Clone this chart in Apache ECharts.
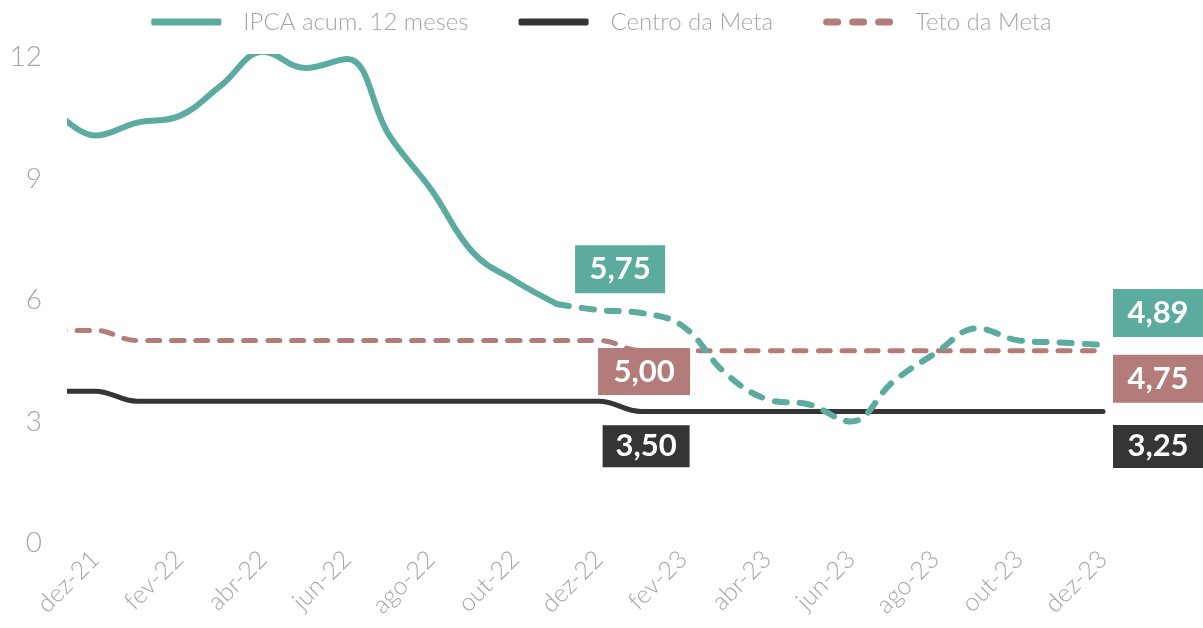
<!DOCTYPE html>
<html>
<head>
<meta charset="utf-8">
<script src="https://cdn.jsdelivr.net/npm/echarts@6/dist/echarts.min.js"></script>
<style>
html, body { margin: 0; background: #fff; }
#container { width: 1203px; height: 628px; }
</style>
</head>
<body>
<div id="container"></div>
<script>
// meses, começando em nov-21 (índice -1 no eixo)
var meses = ['nov-21', 'dez-21', 'jan-22', 'fev-22', 'mar-22', 'abr-22', 'mai-22', 'jun-22', 'jul-22',
    'ago-22', 'set-22', 'out-22', 'nov-22', 'dez-22', 'jan-23', 'fev-23', 'mar-23', 'abr-23',
    'mai-23', 'jun-23', 'jul-23', 'ago-23', 'set-23', 'out-23', 'nov-23', 'dez-23']

// realizado nov-21 .. nov-22
var ipcaRealizado = [10.74, 10.06, 10.38, 10.54, 11.30, 12.13, 11.73, 11.95, 10.07, 8.73, 7.17, 6.47, 5.90]
// projeção nov-22 .. dez-23
var ipcaProjecao = [5.90, 5.75, 5.68, 5.35, 4.20, 3.55, 3.42, 3.00, 3.98, 4.68, 5.30, 5.00, 4.95, 4.89]
// nov-21 .. dez-23
var centroMeta = [3.75, 3.75, 3.50, 3.50, 3.50, 3.50, 3.50, 3.50, 3.50, 3.50, 3.50, 3.50, 3.50, 3.50,
    3.25, 3.25, 3.25, 3.25, 3.25, 3.25, 3.25, 3.25, 3.25, 3.25, 3.25, 3.25]
var tetoMeta = [5.25, 5.25, 5.00, 5.00, 5.00, 5.00, 5.00, 5.00, 5.00, 5.00, 5.00, 5.00, 5.00, 5.00,
    4.75, 4.75, 4.75, 4.75, 4.75, 4.75, 4.75, 4.75, 4.75, 4.75, 4.75, 4.75]
var ticksX = [0, 2, 4, 6, 8, 10, 12, 14, 16, 18, 20, 22, 24]

var verde = '#5bab9f'
var preto = '#353535'
var rosa = '#b37b7a'
var cinza = '#a6a6a6'
var fonte = 'Lato, "Open Sans", sans-serif'

// índice do mês no eixo x (dez-21 = 0)
var pares = function (valores, inicio) {
    var res = []
    for (var i = 0; i < valores.length; i++) {
        res.push([inicio + i - 1, valores[i]])
    }
    return res
}

var fmt = function (v) {
    return v.toFixed(2).replace('.', ',')
}

var caixa = function (x, y, cor, offset, size) {
    return {
        coord: [x, y],
        value: y,
        symbol: 'rect',
        symbolSize: size,
        symbolOffset: offset,
        itemStyle: { color: cor },
        label: {
            show: true,
            position: 'inside',
            color: '#fff',
            fontFamily: fonte,
            fontWeight: 'bold',
            fontSize: 31,
            formatter: function (p) { return fmt(p.value) },
        },
    }
}

var iDez22 = meses.indexOf('dez-22') - 1
var iDez23 = meses.indexOf('dez-23') - 1

// ícone tracejado da legenda (três traços arredondados)
var tracejado = 'path://M3.5,0h11a3.5,3.5 0 0 1 0,7h-11a3.5,3.5 0 0 1 0,-7z' +
    'M29.5,0h11a3.5,3.5 0 0 1 0,7h-11a3.5,3.5 0 0 1 0,-7z' +
    'M55.5,0h11a3.5,3.5 0 0 1 0,7h-11a3.5,3.5 0 0 1 0,-7z'

var chart = echarts.init(document.getElementById('container'))

var option = {
    animation: false,
    grid: { left: 70, right: 100, top: 57, bottom: 85 },
    legend: {
        top: 5,
        left: 'center',
        itemWidth: 70,
        itemHeight: 7,
        itemGap: 50,
        textStyle: {
            color: cinza,
            fontFamily: fonte,
            fontWeight: 300,
            fontSize: 24,
            padding: [0, 0, 0, 17],
        },
        data: [
            { name: 'IPCA acum. 12 meses', icon: 'roundRect', itemStyle: { color: verde } },
            { name: 'Centro da Meta', icon: 'roundRect', itemStyle: { color: preto } },
            { name: 'Teto da Meta', icon: tracejado, itemStyle: { color: rosa } },
        ],
    },
    xAxis: {
        type: 'value',
        min: -0.6,
        max: 24,
        axisLine: { show: false },
        axisTick: { show: false },
        splitLine: { show: false },
        axisLabel: {
            customValues: ticksX,
            rotate: 45,
            margin: 12,
            color: cinza,
            fontFamily: fonte,
            fontWeight: 300,
            fontSize: 25,
            formatter: function (v) { return meses[v + 1] },
        },
    },
    yAxis: {
        type: 'value',
        min: 0,
        max: 12,
        interval: 3,
        axisLine: { show: false },
        axisTick: { show: false },
        splitLine: { show: false },
        axisLabel: {
            margin: 28,
            color: cinza,
            fontFamily: fonte,
            fontWeight: 300,
            fontSize: 28,
        },
    },
    series: [
        {
            name: 'IPCA acum. 12 meses',
            type: 'line',
            smooth: 0.4,
            symbol: 'none',
            color: verde,
            lineStyle: { width: 6, color: verde, cap: 'round' },
            data: pares(ipcaRealizado, 0),
            z: 5,
        },
        {
            name: 'IPCA acum. 12 meses',
            type: 'line',
            smooth: 0.4,
            symbol: 'none',
            color: verde,
            lineStyle: { width: 6, color: verde, type: [12, 13], cap: 'round' },
            data: pares(ipcaProjecao, meses.indexOf('nov-22')),
            z: 5,
            markPoint: {
                data: [
                    caixa(iDez22, ipcaProjecao[1], verde, [21, -41], [90, 48]),
                    caixa(iDez23, ipcaProjecao[ipcaProjecao.length - 1], verde, [55, -32], [90, 48]),
                ],
            },
        },
        {
            name: 'Centro da Meta',
            type: 'line',
            smooth: 0.4,
            symbol: 'none',
            color: preto,
            lineStyle: { width: 5, color: preto, cap: 'round' },
            data: pares(centroMeta, 0),
            markPoint: {
                data: [
                    caixa(iDez22, centroMeta[iDez22 + 1], preto, [47, 45], [87, 42]),
                    caixa(iDez23, centroMeta[iDez23 + 1], preto, [55, 35], [90, 43]),
                ],
            },
        },
        {
            name: 'Teto da Meta',
            type: 'line',
            smooth: 0.4,
            symbol: 'none',
            color: rosa,
            lineStyle: { width: 5, color: rosa, type: [12, 12], cap: 'round' },
            data: pares(tetoMeta, 0),
            markPoint: {
                data: [
                    caixa(iDez22, tetoMeta[iDez22 + 1], rosa, [45, 31], [92, 47]),
                    caixa(iDez23, tetoMeta[iDez23 + 1], rosa, [55, 28], [90, 48]),
                ],
            },
        },
    ],
}

chart.setOption(option)
</script>
</body>
</html>
